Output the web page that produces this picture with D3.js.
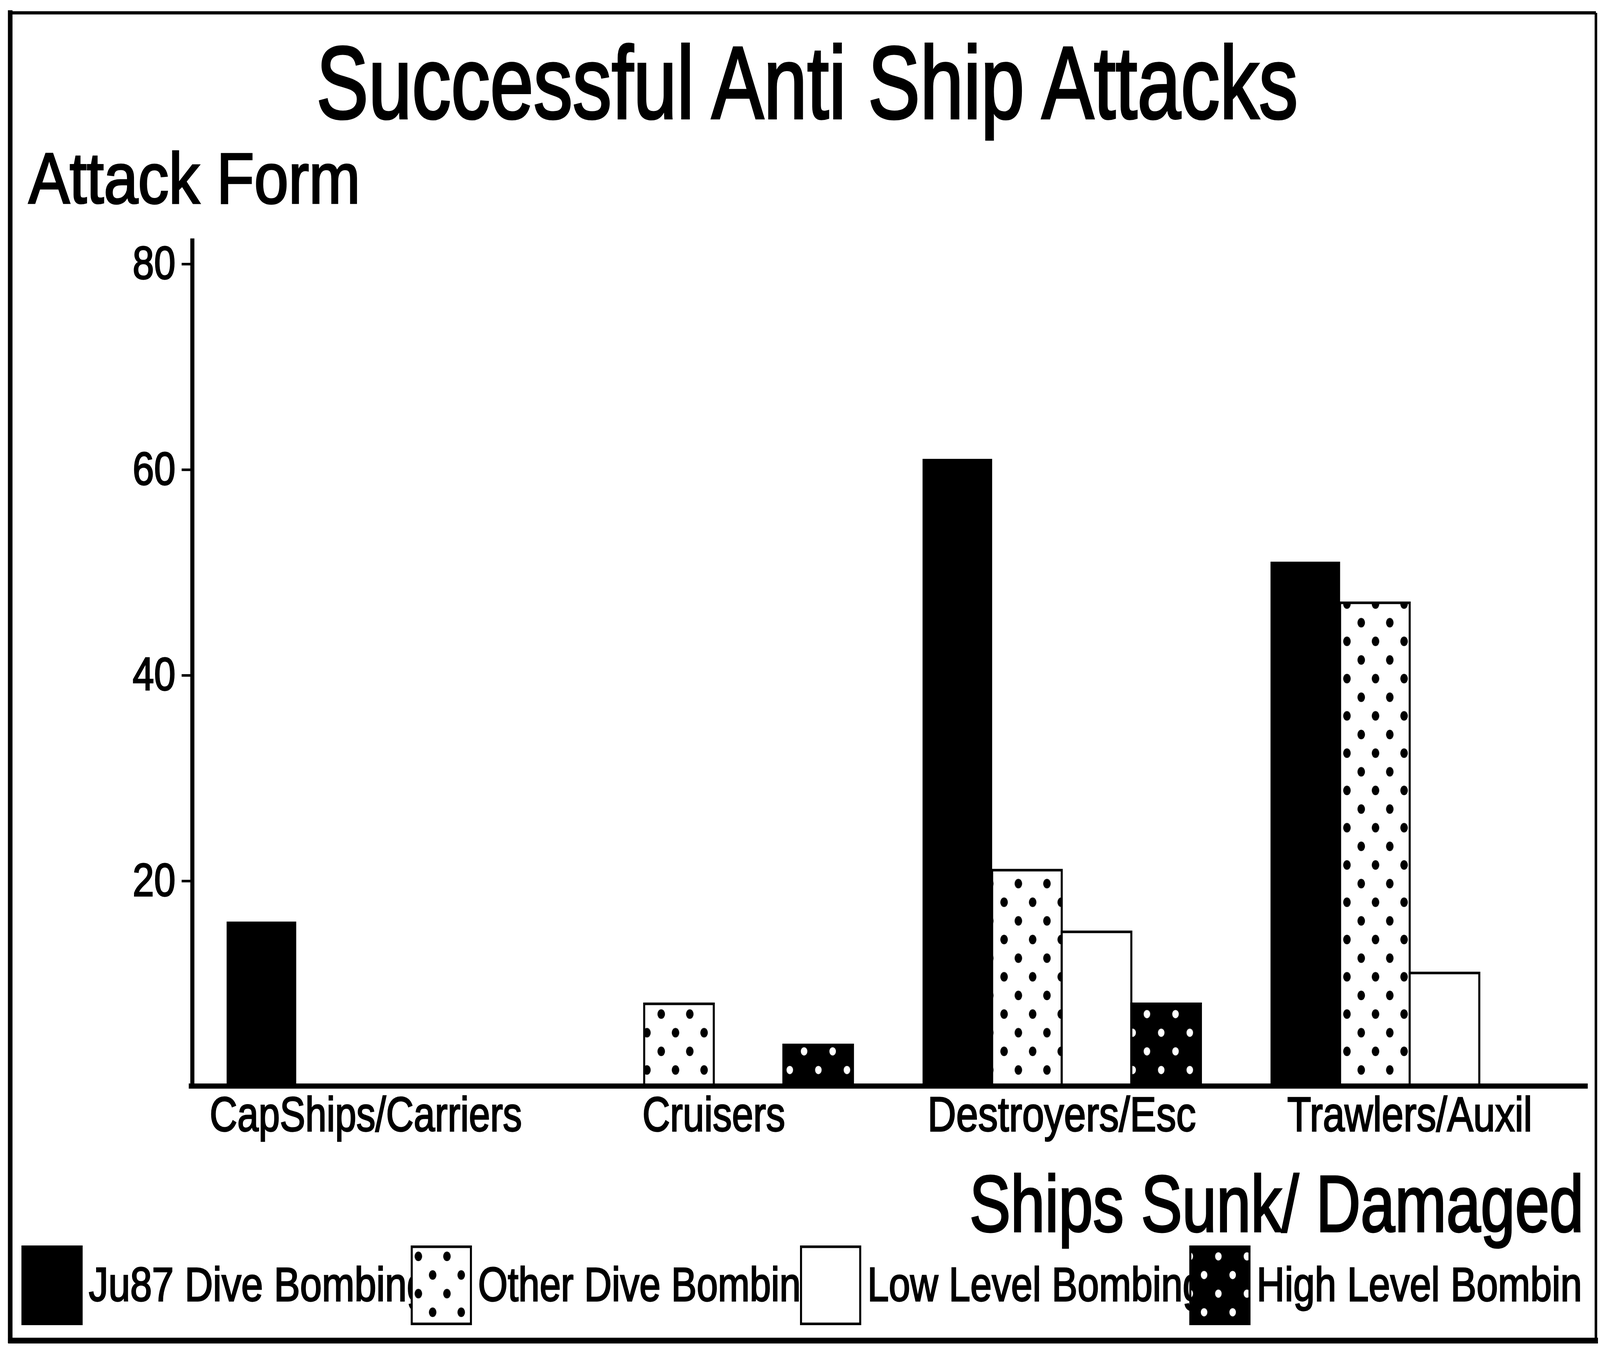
<!DOCTYPE html>
<html>
<head>
<meta charset="utf-8">
<script src="https://cdn.jsdelivr.net/npm/d3@7"></script>
<style>
  html, body { margin: 0; padding: 0; background: #fff; width: 100%; height: 100%; overflow: hidden; }
  svg { display: block; width: 100vw; height: 100vh; }
  text { font-family: "Liberation Sans Narrow", "Liberation Sans", Arial, sans-serif; fill: #000; stroke: #000; stroke-width: 1; }
</style>
</head>
<body>
<svg id="chart"></svg>
<script>
// данные графика
const categories = ["CapShips/Carriers", "Cruisers", "Destroyers/Esc", "Trawlers/Auxil"];
const seriesNames = ["Ju87 Dive Bombing", "Other Dive Bombing", "Low Level Bombing", "High Level Bombing"];
const ju87Dive = [16, 0, 61, 51];
const otherDive = [0, 8, 21, 47];
const lowLevel = [0, 0, 15, 11];
const highLevel = [0, 4, 8, 0];
const yTicks = [20, 40, 60, 80];

const seriesValues = [ju87Dive, otherDive, lowLevel, highLevel];

function buildRows() {
    let rows = [];
    categories.forEach((cat, i) => {
        seriesNames.forEach((s, j) => {
            rows.push({ cat: cat, series: s, idx: j, value: seriesValues[j][i] });
        });
    });
    return rows;
}

function drawChart() {
    const W = 1568, H = 1048;
    const svg = d3.select("#chart")
        .attr("viewBox", `0 0 ${W} ${H}`)
        .attr("preserveAspectRatio", "none");

    const attr_area = { left: 188, right: 1552, top: 185, bottom: 845 };

    // узоры: точки на белом и белые точки на черном
    const defs = svg.append("defs");
    const pDots = defs.append("pattern")
        .attr("id", "dotsWhite")
        .attr("patternUnits", "userSpaceOnUse")
        .attr("width", 28).attr("height", 29);
    pDots.append("rect").attr("width", 28).attr("height", 29).attr("fill", "#fff");
    pDots.append("circle").attr("cx", 4).attr("cy", 6).attr("r", 3.7).attr("fill", "#000");
    pDots.append("circle").attr("cx", 18).attr("cy", 20.5).attr("r", 3.7).attr("fill", "#000");

    const pDark = defs.append("pattern")
        .attr("id", "dotsBlack")
        .attr("patternUnits", "userSpaceOnUse")
        .attr("width", 28).attr("height", 29);
    pDark.append("rect").attr("width", 28).attr("height", 29).attr("fill", "#000");
    pDark.append("circle").attr("cx", 4).attr("cy", 6).attr("r", 3.2).attr("fill", "#fff");
    pDark.append("circle").attr("cx", 18).attr("cy", 20.5).attr("r", 3.2).attr("fill", "#fff");

    defs.append("clipPath").attr("id", "frameClip")
        .append("rect").attr("x", 10).attr("y", 10).attr("width", 1540).attr("height", 1033);

    const fills = ["#000", "url(#dotsWhite)", "#fff", "url(#dotsBlack)"];

    // шкалы
    const scX = d3.scaleBand()
        .domain(categories)
        .range([attr_area.left, attr_area.right])
        .paddingInner(0.2)
        .paddingOuter(0.1);
    const scS = d3.scaleBand()
        .domain(seriesNames)
        .range([0, scX.bandwidth()]);
    const scY = d3.scaleLinear()
        .domain([0, 82.5])
        .range([attr_area.bottom, attr_area.top]);

    // рамка
    svg.append("line").attr("x1", 10).attr("y1", 10).attr("x2", 1564).attr("y2", 10)
        .attr("stroke", "#000").attr("stroke-width", 2.5);
    svg.append("line").attr("x1", 10).attr("y1", 8).attr("x2", 10).attr("y2", 1045)
        .attr("stroke", "#000").attr("stroke-width", 4.5);
    svg.append("line").attr("x1", 8).attr("y1", 1043).attr("x2", 1566).attr("y2", 1043)
        .attr("stroke", "#000").attr("stroke-width", 4.5);
    svg.append("line").attr("x1", 1564).attr("y1", 10).attr("x2", 1564).attr("y2", 1045)
        .attr("stroke", "#000").attr("stroke-width", 2.5);

    // заголовки
    svg.append("text")
        .attr("x", 310).attr("y", 92)
        .attr("font-size", 80)
        .style("stroke-width", 1.8)
        .attr("textLength", 962).attr("lengthAdjust", "spacingAndGlyphs")
        .text("Successful Anti Ship Attacks");
    svg.append("text")
        .attr("x", 28).attr("y", 158)
        .attr("font-size", 56)
        .style("stroke-width", 1.4)
        .attr("textLength", 325).attr("lengthAdjust", "spacingAndGlyphs")
        .text("Attack Form");
    svg.append("text")
        .attr("x", 950).attr("y", 958)
        .attr("font-size", 62)
        .style("stroke-width", 1.5)
        .attr("textLength", 602).attr("lengthAdjust", "spacingAndGlyphs")
        .text("Ships Sunk/ Damaged");

    // столбцы
    const rows = buildRows().filter(d => d.value > 0);
    svg.append("g").selectAll("rect")
        .data(rows)
        .enter()
        .append("rect")
        .attr("x", d => scX(d.cat) + scS(d.series))
        .attr("y", d => scY(d.value))
        .attr("width", scS.bandwidth())
        .attr("height", d => scY(0) - scY(d.value))
        .attr("fill", d => fills[d.idx])
        .attr("stroke", "#000")
        .attr("stroke-width", d => d.idx === 0 ? 0 : 2);

    // оси
    const gy = svg.append("g")
        .attr("transform", `translate(${attr_area.left}, 0)`)
        .call(d3.axisLeft(scY).tickValues(yTicks).tickSize(10).tickSizeOuter(0).tickPadding(6));
    gy.select(".domain").attr("stroke-width", 4);
    gy.selectAll(".tick line").attr("stroke-width", 2);
    gy.selectAll(".tick text")
        .attr("font-size", 36)
        .attr("font-family", null)
        .attr("textLength", 42).attr("lengthAdjust", "spacingAndGlyphs");

    const labelWidths = [306, 140, 263, 240];
    const gx = svg.append("g")
        .attr("transform", `translate(0, ${attr_area.bottom})`)
        .call(d3.axisBottom(scX).tickSize(0).tickSizeOuter(0).tickPadding(8));
    gx.select(".domain").attr("stroke-width", 4).attr("d", `M${attr_area.left - 3},0H1556`);
    gx.selectAll(".tick text")
        .attr("font-size", 38)
        .attr("font-family", null)
        .attr("textLength", (d, i) => labelWidths[i])
        .attr("lengthAdjust", "spacingAndGlyphs");

    // легенда
    const legendWidths = [333, 337, 330, 340];
    const lg = svg.append("g").attr("clip-path", "url(#frameClip)");
    const items = lg.selectAll("g")
        .data(seriesNames)
        .enter()
        .append("g")
        .attr("transform", (d, i) => `translate(${22 + i * 381.5}, 970)`);
    items.append("text")
        .attr("x", 65).attr("y", 42)
        .attr("font-size", 37)
        .attr("textLength", (d, i) => legendWidths[i])
        .attr("lengthAdjust", "spacingAndGlyphs")
        .text(d => d);
    // квадраты поверх текста, как в оригинале
    lg.selectAll("rect.sw")
        .data(seriesNames)
        .enter()
        .append("rect")
        .attr("class", "sw")
        .attr("x", (d, i) => 22 + i * 381.5)
        .attr("y", 970)
        .attr("width", 58)
        .attr("height", 60)
        .attr("fill", (d, i) => fills[i])
        .attr("stroke", "#000")
        .attr("stroke-width", 2);
}

drawChart();
</script>
</body>
</html>
